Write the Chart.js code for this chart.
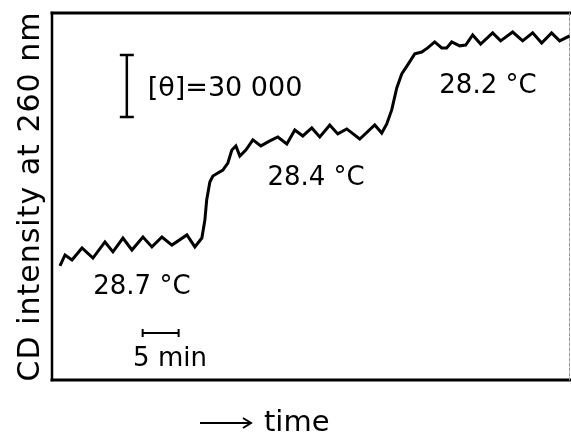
<!DOCTYPE html>
<html>
<head>
<meta charset="utf-8">
<script src="https://cdn.jsdelivr.net/npm/chart.js@4"></script>
<style>
  body { margin: 0; background: #fff; }
  #wrap { width: 571px; height: 436px; }
</style>
</head>
<body>
<div id="wrap"><canvas id="cd"></canvas></div>
<script>
// time in minutes, CD signal in thousands of [θ] units
const timeMin = [1.11, 1.81, 2.78, 4.17, 5.69, 7.36, 8.47, 9.86, 11.11, 12.64, 13.89, 15.28, 16.67, 18.75, 19.86, 20.83, 21.25,
  21.5, 21.94, 22.36, 23.06, 23.75, 24.44, 25.0, 25.56, 26.11, 26.94, 27.92, 29.03, 30.28, 31.39, 32.64, 33.75, 34.86, 36.11, 37.22,
  38.61, 39.72, 40.97, 42.78, 44.86, 45.83, 46.53, 47.22, 47.92, 48.61, 49.44, 50.42, 51.39, 52.22, 53.19, 54.17, 54.86, 55.56, 56.67, 57.5,
  58.47, 59.58, 61.25, 62.36, 64.03, 65.42, 66.81, 68.06, 69.44, 70.56, 71.94];
const cdSignal = [55.2, 60.5, 58.1, 63.9, 59.0, 66.8, 62.0, 68.7, 62.9, 69.2, 64.4, 69.2, 65.3, 70.2, 64.4, 68.7, 77.4,
  87.1, 95.8, 98.7, 100.2, 101.6, 105.0, 111.3, 113.3, 108.4, 111.3, 116.2, 113.3, 115.7, 117.6, 114.2, 121.0, 118.1, 122.0, 117.6,
  123.4, 119.1, 121.5, 116.6, 123.4, 119.5, 123.9, 130.7, 141.3, 148.1, 152.5, 157.8, 158.7, 160.7, 163.6, 160.7, 160.7, 163.6, 161.7, 162.1,
  167.0, 162.6, 168.0, 164.1, 168.4, 164.1, 168.0, 163.1, 168.0, 164.1, 166.5];

const tempLabels = ["28.7 °C", "28.4 °C", "28.2 °C"];
const thetaBarSize = 30;   // [θ] = 30 000
const timeBarSize = 5;     // 5 min
const yTitle = "CD intensity at 260 nm";
const xTitle = "time";

const annotations = {
  id: "annotations",
  beforeDatasetsDraw(chart) {
    const { ctx, chartArea: a } = chart;
    ctx.save();
    ctx.strokeStyle = "#000";
    ctx.lineCap = "square";
    ctx.lineWidth = 3;
    ctx.beginPath(); ctx.moveTo(a.left, a.top); ctx.lineTo(a.right, a.top); ctx.stroke();
    ctx.beginPath(); ctx.moveTo(a.left, a.bottom); ctx.lineTo(a.right, a.bottom); ctx.stroke();
    ctx.lineWidth = 2.5;
    ctx.beginPath(); ctx.moveTo(a.left, a.top); ctx.lineTo(a.left, a.bottom); ctx.stroke();
    ctx.strokeStyle = "#999";
    ctx.lineWidth = 1;
    ctx.setLineDash([3, 2]);
    ctx.beginPath(); ctx.moveTo(a.right - 0.5, a.top); ctx.lineTo(a.right - 0.5, a.bottom); ctx.stroke();
    ctx.restore();
  },
  afterDatasetsDraw(chart) {
    const { ctx, chartArea: a } = chart;
    const x = chart.scales.x, y = chart.scales.y;
    ctx.save();
    ctx.fillStyle = "#000";
    ctx.strokeStyle = "#000";
    ctx.textBaseline = "middle";

    // [θ] scale bar
    const bx = x.getPixelForValue(10.4);
    const by0 = y.getPixelForValue(127.3), by1 = y.getPixelForValue(127.3 + thetaBarSize);
    ctx.lineWidth = 2.5;
    ctx.beginPath();
    ctx.moveTo(bx, by0); ctx.lineTo(bx, by1);
    ctx.moveTo(bx - 7, by0); ctx.lineTo(bx + 7, by0);
    ctx.moveTo(bx - 7, by1); ctx.lineTo(bx + 7, by1);
    ctx.stroke();
    ctx.font = "27px 'DejaVu Sans'";
    ctx.textAlign = "left";
    ctx.fillText("[θ]=30 000", x.getPixelForValue(13.3), y.getPixelForValue(141));

    // temperature labels
    ctx.textAlign = "center";
    ctx.font = "26px 'DejaVu Sans'";
    ctx.fillText(tempLabels[0], x.getPixelForValue(12.5), y.getPixelForValue(45.0));
    ctx.fillText(tempLabels[1], x.getPixelForValue(36.7), y.getPixelForValue(97.8));
    ctx.fillText(tempLabels[2], x.getPixelForValue(60.6), y.getPixelForValue(142.3));

    // 5 min bar
    const tx0 = x.getPixelForValue(12.6), tx1 = x.getPixelForValue(12.6 + timeBarSize);
    const ty = y.getPixelForValue(22.7);
    ctx.lineWidth = 2;
    ctx.beginPath();
    ctx.moveTo(tx0, ty); ctx.lineTo(tx1, ty);
    ctx.moveTo(tx0, ty - 4); ctx.lineTo(tx0, ty + 4);
    ctx.moveTo(tx1, ty - 4); ctx.lineTo(tx1, ty + 4);
    ctx.stroke();
    ctx.font = "26px 'DejaVu Sans'";
    ctx.fillText("5 min", x.getPixelForValue(16.4), y.getPixelForValue(10.2));

    // y title
    ctx.save();
    ctx.translate(a.left - 21, (a.top + a.bottom) / 2);
    ctx.rotate(-Math.PI / 2);
    ctx.font = "30px 'DejaVu Sans'";
    ctx.letterSpacing = "1px";
    ctx.textAlign = "center";
    ctx.fillText(yTitle, 0, 0);
    ctx.restore();

    // x title with arrow
    const ay = a.bottom + 43;
    ctx.lineWidth = 2;
    ctx.beginPath();
    ctx.moveTo(200, ay); ctx.lineTo(250, ay);
    ctx.moveTo(243, ay - 5); ctx.lineTo(251, ay); ctx.lineTo(243, ay + 5);
    ctx.stroke();
    ctx.font = "29px 'DejaVu Sans'";
    ctx.textAlign = "left";
    ctx.fillText(xTitle, 264, ay);
    ctx.restore();
  }
};

new Chart(document.getElementById("cd"), {
  type: "line",
  data: {
    datasets: [{
      data: timeMin.map((t, i) => ({ x: t, y: cdSignal[i] })),
      borderColor: "#000",
      borderWidth: 3,
      pointRadius: 0,
      tension: 0,
      fill: false
    }]
  },
  options: {
    responsive: true,
    maintainAspectRatio: false,
    animation: false,
    layout: { padding: { left: 52, top: 13, right: 1, bottom: 56 } },
    plugins: { legend: { display: false }, tooltip: { enabled: false } },
    scales: {
      x: { type: "linear", min: 0, max: 72, display: false },
      y: { min: 0, max: 177.6, display: false }
    }
  },
  plugins: [annotations]
});
</script>
</body>
</html>
